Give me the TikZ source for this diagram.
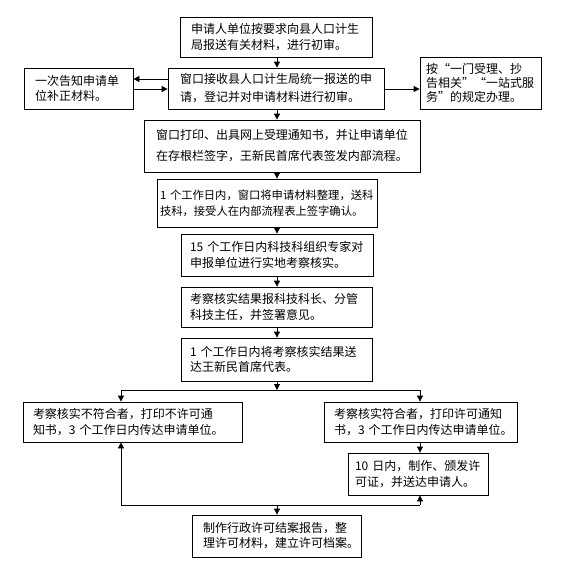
\documentclass[tikz,border=0pt]{standalone}
\usepackage{fontspec}
\newfontfamily\cjk{Noto Sans CJK SC}
\usetikzlibrary{arrows.meta}
\tikzset{
  box/.style={draw, line width=0.8pt, align=left, inner ysep=0pt, inner xsep=11pt,
    font=\cjk\fontsize{12}{15.5}\selectfont},
  arr/.style={line width=0.8pt, -{Triangle[length=6pt,width=6pt]}},
  ln/.style={line width=0.8pt}
}
\begin{document}
\begin{tikzpicture}[x=1pt,y=-1pt]
\fill[white] (0,0) rectangle (564,574);
\useasboundingbox (0,0) rectangle (564,574);

\node[box, minimum height=40pt, text width=170pt] (b1) at (276,37)
  {申请人单位按要求向县人口计生\\局报送有关材料，进行初审。};
\node[box, minimum height=41pt, text width=87pt] (b2) at (78.5,88.5)
  {一次告知申请单\\位补正材料。};
\node[box, minimum height=41pt, text width=192pt, inner xsep=12pt,
  font=\cjk\fontsize{12}{18}\selectfont] (b3) at (276,88.5)
  {窗口接收县人口计生局统一报送的申\\请，登记并对申请材料进行初审。};
\node[box, minimum height=52pt, text width=109pt, inner xsep=6pt,
  font=\cjk\fontsize{12}{14}\selectfont] (b4) at (480.5,83)
  {按“一门受理、抄\\告相关”“一站式服\\务”的规定办理。};
\node[box, minimum height=52pt, text width=252pt, inner xsep=12pt,
  font=\cjk\fontsize{12}{21}\selectfont] (b5) at (282,146)
  {窗口打印、出具网上受理通知书，并让申请单位\\在存根栏签字，王新民首席代表签发内部流程。};
\node[box, minimum height=48pt, text width=214pt, inner xsep=3pt,
  font=\cjk\fontsize{11.3}{16}\selectfont] (b6) at (267,203)
  {1~个工作日内，窗口将申请材料整理，送科\\技科，接受人在内部流程表上签字确认。};
\node[box, minimum height=42pt, text width=174pt, inner xsep=9pt] (b7) at (277,255)
  {15~个工作日内科技科组织专家对\\申报单位进行实地考察核实。};
\node[box, minimum height=40pt, text width=173pt, inner xsep=9pt] (b8) at (276.5,307)
  {考察核实结果报科技科长、分管\\科技主任，并签署意见。};
\node[box, minimum height=43pt, text width=173pt, inner xsep=9pt] (b9) at (276.5,359.5)
  {1~个工作日内将考察核实结果送\\达王新民首席代表。};
\node[box, minimum height=40pt, text width=199pt, inner xsep=10pt] (b10) at (132.5,422)
  {考察核实不符合者，打印不许可通\\知书，3~个工作日内传达申请单位。};
\node[box, minimum height=40pt, text width=173pt, inner xsep=10pt] (b11) at (420.5,422)
  {考察核实符合者，打印许可通知\\书，3~个工作日内传达申请单位。};
\node[box, minimum height=42pt, text width=126pt, inner xsep=7pt,
  font=\cjk\fontsize{12}{16}\selectfont] (b12) at (418,474)
  {10~日内，制作、颁发许\\可证，并送达申请人。};
\node[box, minimum height=42pt, text width=147pt, inner xsep=11pt,
  font=\cjk\fontsize{12}{15}\selectfont] (b13) at (276.5,536)
  {制作行政许可结案报告，整\\理许可材料，建立许可档案。};

\coordinate (cx) at (277,0);
\coordinate (ya) at (0,79);
\coordinate (yb) at (0,89);
\coordinate (sp) at (277,390);
\coordinate (sl) at (121,390);
\coordinate (sr) at (420,390);
\coordinate (bl) at (121,505);
\coordinate (bm) at (277,505);
\coordinate (br) at (420,505);

\draw[arr] (b1.south -| cx) -- (b3.north -| cx);
\draw[arr] (b3.south -| cx) -- (b5.north -| cx);
\draw[arr] (b5.south -| cx) -- (b6.north -| cx);
\draw[arr] (b6.south -| cx) -- (b7.north -| cx);
\draw[arr] (b7.south -| cx) -- (b8.north -| cx);
\draw[arr] (b8.south -| cx) -- (b9.north -| cx);
\draw[arr] (b9.south -| cx) -- (sp);

\draw[arr] (b3.west |- ya) -- (b2.east |- ya);
\draw[arr] (b2.east |- yb) -- (b3.west |- yb);
\draw[arr] (b3.east |- yb) -- (b4.west |- yb);

\draw[ln] (sl) -- (sr);
\draw[arr] (sl) -- (b10.north -| sl);
\draw[arr] (sr) -- (b11.north -| sr);
\draw[arr] (b11.south -| sr) -- (b12.north -| sr);

\draw[ln] (bl) -- (br);
\draw[arr] (bl) -- (b10.south -| bl);
\draw[arr] (br) -- (b12.south -| br);
\draw[arr] (bm) -- (b13.north -| bm);
\end{tikzpicture}
\end{document}
